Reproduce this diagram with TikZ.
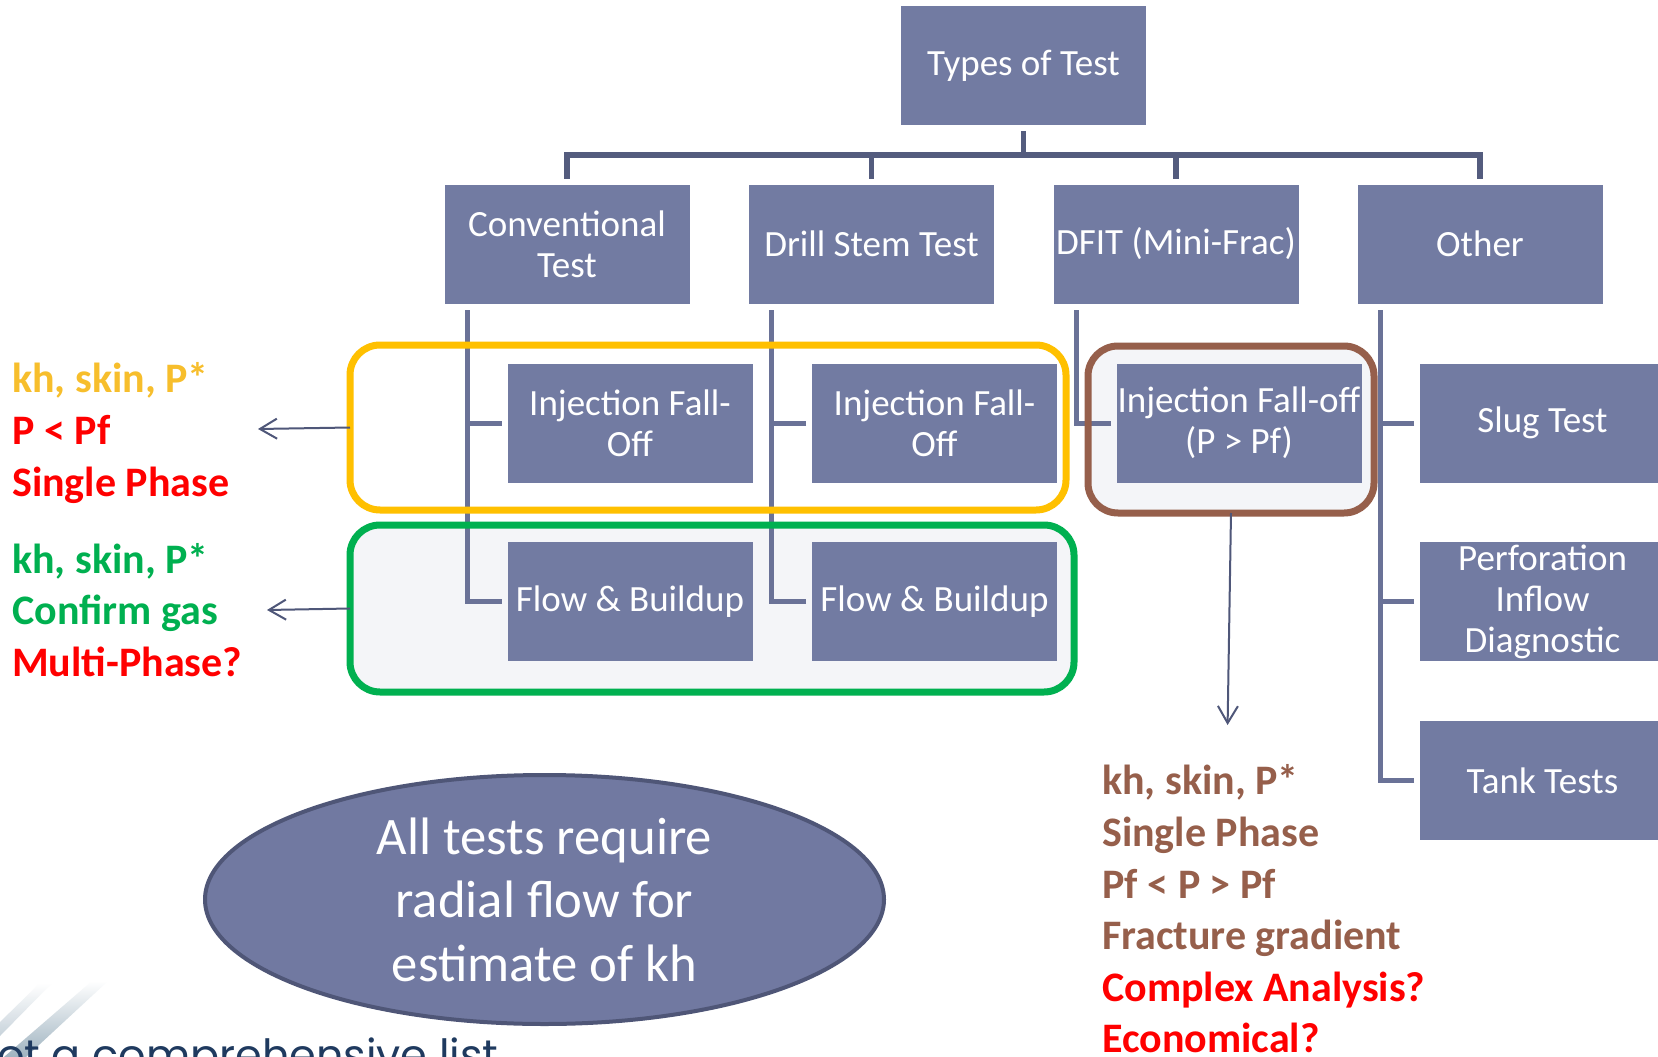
\documentclass[tikz,border=0pt]{standalone}
\usepackage{fontspec}
\setmainfont{Carlito}
\newfontfamily\listfont{Poppins}
\usetikzlibrary{arrows.meta,shapes.geometric}
\definecolor{boxfill}{HTML}{727BA2}
\definecolor{connc}{HTML}{6A7297}
\definecolor{topc}{HTML}{545C7E}
\definecolor{arrc}{HTML}{4F5779}
\definecolor{ellfill}{HTML}{7179A1}
\definecolor{ellline}{HTML}{4F5677}
\definecolor{yel}{HTML}{FFC000}
\definecolor{yeltxt}{HTML}{F7BE2C}
\definecolor{grn}{HTML}{00B050}
\definecolor{brn}{HTML}{965F4B}
\definecolor{panel}{HTML}{F4F5F8}
\definecolor{navy}{HTML}{1F3A5F}
\definecolor{swoosh}{HTML}{9FB3C0}
\definecolor{swooshlt}{HTML}{C8D3DB}
\pgfdeclarelayer{bg}
\pgfsetlayers{bg,main}
\tikzset{
  box/.style={fill=boxfill, text=white, minimum width=245pt, minimum height=119pt,
    inner sep=0pt, outer sep=0pt, align=center, font=\fontsize{37}{41}\selectfont},
  conn/.style={draw=connc, line width=5pt},
  topconn/.style={draw=topc, line width=5.5pt},
  frame/.style={line width=7pt, rounded corners=30pt, minimum width=#1, inner sep=0pt, outer sep=0pt},
  arr/.style={draw=arrc, line width=2pt, -{Straight Barb[length=17pt,width=20pt]}},
  sidetext/.style={inner sep=0pt, align=left, font=\bfseries\fontsize{42}{51.6}\selectfont},
}
\begin{document}
\begin{tikzpicture}[x=1pt,y=-1pt]
\useasboundingbox (0,0) rectangle (1658,1057);
\begin{pgfonlayer}{bg}
\fill[white] (0,0) rectangle (1658,1057);
\end{pgfonlayer}

% swoosh decoration
\shade[top color=white, bottom color=swooshlt] (0,1036) -- (0,1022) -- (40,983) -- (52,983) -- cycle;
\shade[top color=white, bottom color=swoosh] (4,1057) -- (26,1057) -- (108,981) -- (92,981) -- cycle;

% level 1 and 2
\node[box] (types) at (1023.5,65.5) {Types of Test};
\node[box] (conv)  at (567,244)   {Conventional\\Test};
\node[box] (dst)   at (871.5,244) {Drill Stem Test};
\node[box] (dfit)  at (1176,244)  {DFIT (Mini-Frac)};
\node[box] (other) at (1480,244)  {Other};

% level 3
\node[box] (inj1)  at (630,423)    {Injection Fall-\\Off};
\node[box] (flow1) at (630,601.5)  {Flow \& Buildup};
\node[box] (inj2)  at (934.5,423)  {Injection Fall-\\Off};
\node[box] (flow2) at (934.5,601.5){Flow \& Buildup};
\node[box] (inj3)  at (1239,423)   {Injection Fall-off\\(P > Pf)};
\node[box] (slug)  at (1542.5,423) {Slug Test};
\node[box] (perf)  at (1542.5,601.5){Perforation\\Inflow\\Diagnostic};
\node[box] (tank)  at (1542.5,780.5){Tank Tests};

% top connectors
\coordinate (bar) at (0,155);
\draw[topconn, shorten <=6pt] (types.south) -- (types.south |- bar);
\draw[topconn, shorten <=6pt, shorten >=6pt] (conv.north) -- (conv.north |- bar) -- (other.north |- bar) -- (other.north);
\draw[topconn, shorten >=6pt] (dst.north |- bar) -- (dst.north);
\draw[topconn, shorten >=6pt] (dfit.north |- bar) -- (dfit.north);

% side connectors
\draw[conn] ([xshift=-6pt]inj1.west)  -| ([xshift=22.5pt,yshift=-6pt]conv.south west);
\draw[conn] ([xshift=-6pt]flow1.west) -| ([xshift=22.5pt,yshift=-6pt]conv.south west);
\draw[conn] ([xshift=-6pt]inj2.west)  -| ([xshift=22.5pt,yshift=-6pt]dst.south west);
\draw[conn] ([xshift=-6pt]flow2.west) -| ([xshift=22.5pt,yshift=-6pt]dst.south west);
\draw[conn] ([xshift=-6pt]inj3.west)  -| ([xshift=22.5pt,yshift=-6pt]dfit.south west);
\draw[conn] ([xshift=-6pt]slug.west)  -| ([xshift=22.5pt,yshift=-6pt]other.south west);
\draw[conn] ([xshift=-6pt]perf.west)  -| ([xshift=22.5pt,yshift=-6pt]other.south west);
\draw[conn] ([xshift=-6pt]tank.west)  -| ([xshift=22.5pt,yshift=-6pt]other.south west);

% grouping frames
\node[frame=716pt, draw=yel, minimum height=165pt] (yelbox) at (708,427.5) {};
\node[frame=724pt, draw=grn, minimum height=167pt] (grnbox) at (712,608.5) {};
\node[frame=286pt, draw=brn, minimum height=167pt] (brnbox) at (1231,429.5) {};
\begin{pgfonlayer}{bg}
\fill[panel, rounded corners=30pt] (grnbox.north west) rectangle (grnbox.south east);
\fill[panel, rounded corners=30pt] (brnbox.north west) rectangle (brnbox.south east);
\end{pgfonlayer}

% side notes
\node[sidetext, anchor=west] (yelnote) at (12,433)
  {{\color{yeltxt}kh, skin, P*}\\{\color{red}P < Pf}\\{\color{red}Single Phase}};
\node[sidetext, anchor=west] (grnnote) at (12,610)
  {{\color{grn}kh, skin, P*}\\{\color{grn}Confirm gas}\\{\color{red}Multi-Phase?}};
\node[sidetext, anchor=west] (brnnote) at (1102,909)
  {{\color{brn}kh, skin, P*}\\{\color{brn}Single Phase}\\{\color{brn}Pf < P > Pf}\\{\color{brn}Fracture gradient}\\{\color{red}Complex Analysis?}\\{\color{red}Economical?}};

% arrows
\coordinate (yeltip) at (258,429);
\coordinate (grntip) at (267,610);
\coordinate (brntip) at (1227.6,725);
\draw[arr] (yelbox.west) -- (yeltip);
\draw[arr] (grnbox.west) -- (grntip);
\draw[arr] (brnbox.south) -- (brntip);

% ellipse
\node[ellipse, fill=ellfill, draw=ellline, line width=4pt, minimum width=679pt, minimum height=249pt, inner sep=0pt] (note) at (544.5,899.5) {};
\node[text=white, align=center, inner sep=0pt, font=\fontsize{52.7}{63.4}\selectfont] (notetext) at (note.center) {All tests require\\radial flow for\\estimate of kh};

% cut-off footer text
\begin{scope}
\clip (0,0) rectangle (1658,1057);
\node[anchor=base west, inner sep=0pt, text=navy, font=\listfont\fontsize{43}{48}\selectfont] (lst) at (-3,1070) {ot a comprehensive list};
\end{scope}
\end{tikzpicture}
\end{document}
